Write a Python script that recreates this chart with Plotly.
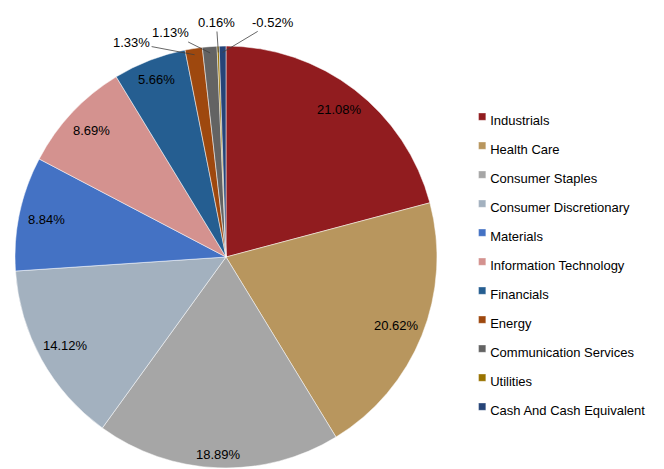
import math
import plotly.graph_objects as go

categories = ["Industrials", "Health Care", "Consumer Staples", "Consumer Discretionary",
              "Materials", "Information Technology", "Financials", "Energy",
              "Communication Services", "Utilities", "Cash And Cash Equivalent"]
weights = [21.08, 20.62, 18.89, 14.12, 8.84, 8.69, 5.66, 1.33, 1.13, 0.16, -0.52]
colors = ["#911C1F", "#B8965E", "#A6A6A6", "#A3B1BF", "#4472C4", "#D4928F",
          "#255E91", "#9E480E", "#636363", "#997300", "#264478"]

W, H = 664, 469
dom_x = [0.0226, 0.6581]
dom_y = [0.0021, 0.9019]

slice_sizes = [abs(w) for w in weights]
text_labels = [f"{w:.2f}%" for w in weights]
legend_labels = [f'<span style="font-size:13px">{c}</span>' for c in categories]

fig = go.Figure(go.Pie(
    labels=legend_labels,
    values=slice_sizes,
    textinfo="none",
    sort=False,
    direction="clockwise",
    rotation=0,
    marker=dict(colors=colors, line=dict(color="white", width=0.5)),
    domain=dict(x=dom_x, y=dom_y),
    automargin=False,
    showlegend=True,
    hovertext=text_labels,
    hoverinfo="label+text",
))

# Data labels placed on the pie geometry derived from the slice values
cx = (dom_x[0] + dom_x[1]) / 2
cy = (dom_y[0] + dom_y[1]) / 2
R = min((dom_x[1] - dom_x[0]) * W, (dom_y[1] - dom_y[0]) * H) / 2
total = sum(slice_sizes)

# outside-label offsets (pixels) for the thin slices: style only
outside_offsets = {7: (-63, -12), 8: (-40, -20), 9: (-2, -30), 10: (50, -30)}
half_w, half_h, pad = 22, 9, 4

cum = 0.0
for i, (v, t) in enumerate(zip(slice_sizes, text_labels)):
    mid = (cum + v / 2) / total
    cum += v
    ang = 2 * math.pi * mid
    s, c = math.sin(ang), math.cos(ang)
    if i in outside_offsets:
        rt = R * 0.97
        ax, ay = outside_offsets[i]
        fig.add_annotation(
            x=cx + rt * s / W, y=cy + rt * c / H, xref="paper", yref="paper",
            text=t, showarrow=True, arrowhead=0, arrowwidth=0.8, arrowcolor="#404040",
            ax=ax, ay=ay, standoff=0, startstandoff=0,
            font=dict(size=13, color="black"),
        )
    else:
        support = half_w * abs(s) + half_h * abs(c)
        rl = R - pad - support
        fig.add_annotation(
            x=cx + rl * s / W, y=cy + rl * c / H, xref="paper", yref="paper",
            text=t, showarrow=False, xanchor="center", yanchor="middle",
            font=dict(size=13, color="black"),
        )

fig.update_layout(
    width=W, height=H,
    margin=dict(l=0, r=0, t=0, b=0),
    paper_bgcolor="white",
    plot_bgcolor="white",
    font=dict(family="Liberation Sans, Arial, sans-serif", size=13, color="black"),
    legend=dict(x=0.678, y=0.442, xanchor="left", yanchor="middle",
                font=dict(size=20), bgcolor="rgba(0,0,0,0)"),
)

post = """
document.body.style.margin='0';
document.querySelectorAll('.legendpie').forEach(function(p){
  p.setAttribute('transform','translate(32,0) scale(0.6)');
});
"""
fig.write_html("out.html", post_script=post, config={"displayModeBar": False})
